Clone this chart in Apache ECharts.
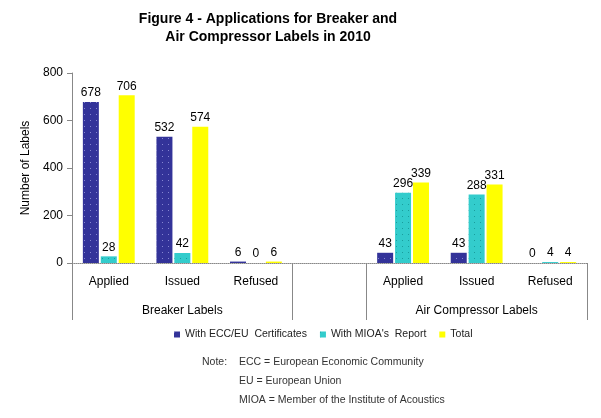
<!DOCTYPE html>
<html>
<head>
<meta charset="utf-8">
<script src="https://cdn.jsdelivr.net/npm/echarts@6/dist/echarts.min.js"></script>
<style>
html,body{margin:0;padding:0;background:#fff;}
#chart{width:601px;height:418px;}
</style>
</head>
<body>
<div id="chart"></div>
<script>
var categories = ['Applied', 'Issued', 'Refused', '', 'Applied', 'Issued', 'Refused'];
var groupLabels = ['', 'Breaker Labels', '', '', '', 'Air Compressor Labels', ''];
var eccValues = [678, 532, 6, null, 43, 43, 0];
var mioaValues = [28, 42, 0, null, 296, 288, 4];
var totalValues = [706, 574, 6, null, 339, 331, 4];
var yTicks = [0, 200, 400, 600, 800];
var seriesNames = ['With ECC/EU  Certificates', "With MIOA's  Report", 'Total'];

var FONT = 'Liberation Sans, Arial, sans-serif';
var chart = echarts.init(document.getElementById('chart'));

function dots(c) {
  return { symbol: 'rect', symbolSize: 1, dashArrayX: [[1, 5]], dashArrayY: [1, 5], color: c, rotation: 0 };
}
var lbl = { show: true, position: 'top', distance: 3, color: '#000', fontSize: 12, fontFamily: FONT };

chart.setOption({
  animation: false,
  backgroundColor: '#fff',
  title: {
    text: 'Figure 4 - Applications for Breaker and\nAir Compressor Labels in 2010',
    left: 263, top: 5, textAlign: 'center',
    textStyle: { fontFamily: FONT, fontSize: 14, fontWeight: 'bold', color: '#000', lineHeight: 18 }
  },
  legend: {
    bottom: 73, left: 169,
    itemWidth: 6, itemHeight: 6, itemGap: 13,
    icon: 'rect',
    textStyle: { fontFamily: FONT, fontSize: 10.5, color: '#222' },
    data: seriesNames
  },
  grid: { left: 72, right: 14, top: 73, bottom: 155, containLabel: false },
  xAxis: [{
    type: 'category', data: categories, position: 'bottom',
    axisLine: { lineStyle: { color: '#888', type: 'dotted' } },
    axisTick: { show: true, length: 57, lineStyle: { color: '#888' },
      interval: function (i) { return i === 0 || i === 3 || i === 4; } },
    axisLabel: { interval: 0, margin: 13, color: '#000', fontFamily: FONT, fontSize: 12 }
  }, {
    type: 'category', data: groupLabels, position: 'bottom', gridIndex: 0,
    axisLine: { show: false }, axisTick: { show: false },
    axisLabel: { interval: 0, margin: 42, color: '#000', fontFamily: FONT, fontSize: 12 }
  }],
  yAxis: {
    type: 'value', min: yTicks[0], max: yTicks[yTicks.length - 1], interval: 200,
    name: 'Number of Labels', nameLocation: 'middle', nameGap: 35, nameRotate: 90,
    nameTextStyle: { fontFamily: FONT, fontSize: 12, color: '#000' },
    axisLine: { show: true, lineStyle: { color: '#888' } },
    axisTick: { show: true, length: 5, lineStyle: { color: '#888' } },
    splitLine: { show: false },
    axisLabel: { color: '#000', fontFamily: FONT, fontSize: 12, margin: 9 }
  },
  series: [{
    name: seriesNames[0], type: 'bar', data: eccValues, barWidth: 16, barGap: '12%',
    itemStyle: { color: '#333399', decal: dots('rgba(200,200,255,0.55)') }, label: lbl
  }, {
    name: seriesNames[1], type: 'bar', data: mioaValues, barWidth: 16,
    itemStyle: { color: '#33CCCC', decal: dots('rgba(0,110,110,0.5)') }, label: lbl
  }, {
    name: seriesNames[2], type: 'bar', data: totalValues, barWidth: 16,
    itemStyle: { color: '#FFFF00' }, label: lbl
  }],
  graphic: [
    { type: 'text', left: 202, top: 357, style: { text: 'Note:', fontFamily: FONT, fontSize: 10.5, fill: '#333' } },
    { type: 'text', left: 239, top: 357, style: { text: 'ECC = European Economic Community', fontFamily: FONT, fontSize: 10.5, fill: '#333' } },
    { type: 'text', left: 239, top: 376, style: { text: 'EU = European Union', fontFamily: FONT, fontSize: 10.5, fill: '#333' } },
    { type: 'text', left: 239, top: 395, style: { text: 'MIOA = Member of the Institute of Acoustics', fontFamily: FONT, fontSize: 10.5, fill: '#333' } }
  ]
});
</script>
</body>
</html>
